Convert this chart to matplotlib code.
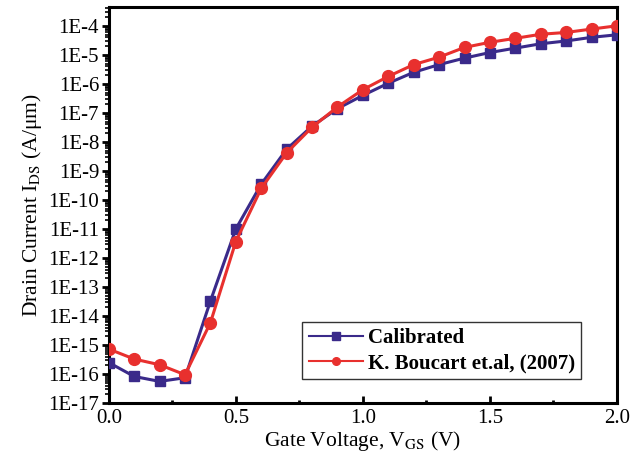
import matplotlib
matplotlib.use('Agg')
import matplotlib.pyplot as plt
from matplotlib.ticker import LogLocator, FixedLocator, NullFormatter, MultipleLocator, FormatStrFormatter

# gate voltage sweep (V)
vgs = [0.0, 0.1, 0.2, 0.3, 0.4, 0.5, 0.6, 0.7, 0.8, 0.9, 1.0,
       1.1, 1.2, 1.3, 1.4, 1.5, 1.6, 1.7, 1.8, 1.9, 2.0]

# drain current (A/um)
ids_calibrated = [2.5e-16, 8.3e-17, 5.6e-17, 7.5e-17, 3.3e-14, 1.0e-11, 3.5e-10,
                  5.6e-9, 3.5e-8, 1.4e-7, 4.0e-7, 1.05e-6, 2.5e-6, 4.6e-6,
                  7.7e-6, 1.2e-5, 1.7e-5, 2.4e-5, 3.0e-5, 4.0e-5, 4.9e-5]
ids_boucart = [7.3e-16, 3.3e-16, 2.1e-16, 9.5e-17, 5.9e-15, 3.7e-12, 2.5e-10,
               4.2e-9, 3.2e-8, 1.6e-7, 6.3e-7, 1.8e-6, 4.6e-6, 8.3e-6,
               1.8e-5, 2.7e-5, 3.7e-5, 5.1e-5, 5.9e-5, 7.7e-5, 1.0e-4]

labels = ['Calibrated', 'K. Boucart et.al, (2007)']
ytick_vals = [10.0 ** p for p in range(-17, -3)]
ytick_text = ['1E%d' % p for p in range(-17, -3)]

plt.rcParams['font.family'] = ['Liberation Serif', 'DejaVu Serif']
plt.rcParams['mathtext.fontset'] = 'stix'

fig = plt.figure(figsize=(6.4, 4.55), dpi=100)
ax = fig.add_axes([0.170, 0.114, 0.794, 0.871])

ax.plot(vgs, ids_calibrated, '-s', color='#3a2a8a', lw=2.2, ms=7.5, label=labels[0], zorder=3)
ax.plot(vgs, ids_boucart, '-o', color='#e8302e', lw=2.2, ms=8.5, label=labels[1], zorder=4)

ax.set_yscale('log')
ax.set_xlim(0, 2.0)
ax.set_ylim(1e-17, 4.5e-4)

ax.xaxis.set_major_locator(MultipleLocator(0.5))
ax.xaxis.set_minor_locator(MultipleLocator(0.25))
ax.xaxis.set_major_formatter(FormatStrFormatter('%.1f'))

ax.yaxis.set_major_locator(FixedLocator(ytick_vals))
ax.set_yticklabels(ytick_text)
ax.yaxis.set_minor_locator(LogLocator(base=10, subs=range(2, 10), numticks=30))
ax.yaxis.set_minor_formatter(NullFormatter())

ax.tick_params(axis='x', which='major', direction='in', length=5, width=2, labelsize=15, pad=4)
ax.tick_params(axis='x', which='minor', direction='in', length=2.5, width=2)
ax.tick_params(axis='y', which='major', direction='out', length=5, width=2, labelsize=15, pad=2)
ax.tick_params(axis='y', which='minor', direction='out', length=3, width=1.2)

for sp in ax.spines.values():
    sp.set_linewidth(2.2)

ax.set_xlabel('Gate Voltage, V$_{\\mathrm{GS}}$ (V)', fontsize=15.5, labelpad=1)
ax.set_ylabel('Drain Current I$_{\\mathrm{DS}}$ (A/\u03bcm)', fontsize=15.5, labelpad=3)

leg = ax.legend(loc='lower right', bbox_to_anchor=(0.93, 0.06), fancybox=False,
                edgecolor='#333333', framealpha=1, borderpad=0.3, handlelength=2.6,
                handletextpad=0.25, labelspacing=0.25, borderaxespad=0,
                prop={'weight': 'bold', 'size': 15})
leg.get_frame().set_linewidth(1.0)
for h in leg.legend_handles:
    h.set_markersize(5.5)
    h.set_linewidth(1.5)

fig.savefig('out.png', dpi=100)
